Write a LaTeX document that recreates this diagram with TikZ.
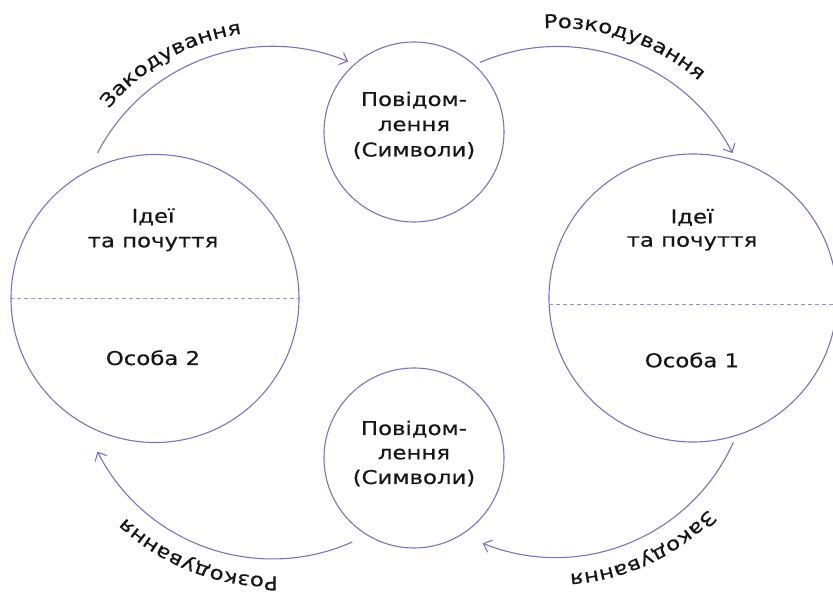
\documentclass[tikz,border=0pt]{standalone}
\usepackage{fontspec}
\setmainfont{DejaVu Sans}[FakeStretch=1.2,FakeBold=0.4]
\usetikzlibrary{arrows.meta,decorations.text,calc}

\definecolor{ink}{RGB}{124,112,196}
\definecolor{dashink}{RGB}{152,142,210}
\definecolor{txt}{RGB}{22,22,22}

\newcommand{\lblfont}{\fontsize{19}{25}\selectfont}

\begin{document}
\begin{tikzpicture}[x=1pt,y=1pt,
  ring/.style={draw=ink, line width=1.1pt, circle, inner sep=0pt},
  line/.style={font=\lblfont, text=txt, anchor=base, inner sep=0pt},
  link/.style={draw=ink, line width=1.1pt, -{Straight Barb[length=7pt,width=13pt]}},
  split/.style={draw=dashink, line width=1pt, dash pattern=on 4pt off 3pt},
  arclabel/.style={decorate, decoration={text along path, text align=center,
      text color=txt, text={|\lblfont|#1}}}
]
\useasboundingbox (0,0) rectangle (833,592);
\clip (0,0) rectangle (833,592);

% people and messages
\node[ring, minimum size=288] (p2) at (155,293.5) {};
\node[ring, minimum size=288] (p1) at (693,294) {};
\node[ring, minimum size=180] (mtop) at (414,460) {};
\node[ring, minimum size=180] (mbot) at (414,134) {};

% dividing lines of the two persons
\draw[split] (p2.west) -- (p2.east);
\coordinate (p1l) at ($(p1.center)+(-143.8,-7)$);
\coordinate (p1r) at ($(p1.center)+(143.8,-7)$);
\draw[split] (p1l) -- (p1r);

% texts inside the circles
\node[line] (p2a) at (153,369.3) {Ідеї};
\node[line] (p2b) at (153,344.7) {та почуття};
\node[line] (p2c) at (153,227) {Особа 2};
\node[line] (p1a) at (692,368.7) {Ідеї};
\node[line] (p1b) at (692,345.3) {та почуття};
\node[line] (p1c) at (692,224.7) {Особа 1};
\node[line] (mt1) at (414,486) {Повідом-};
\node[line] (mt2) at (414,461) {лення};
\node[line] (mt3) at (414,435.5) {(Символи)};
\node[line] (mb1) at (414,157) {Повідом-};
\node[line] (mb2) at (414,132.7) {лення};
\node[line] (mb3) at (414,108) {(Символи)};

% centres of the curved connectors
\coordinate (c1) at (272.5,348.5);
\coordinate (c2) at (557.5,348.5);
\coordinate (c3) at (555.5,229.6);
\coordinate (c4) at (272.5,229.6);

% connectors
\coordinate (s1) at ($(c1)+(152.6:197)$);
\draw[link] (s1) arc[start angle=152.6, end angle=67.4, radius=197];
\coordinate (s2) at ($(c2)+(113.2:197)$);
\draw[link] (s2) arc[start angle=113.2, end angle=27.3, radius=197];
\coordinate (s3) at ($(c3)+(-24.2:195)$);
\draw[link] (s3) arc[start angle=-24.2, end angle=-111.9, radius=195];
\coordinate (s4) at ($(c4)+(-66:196.5)$);
\draw[link] (s4) arc[start angle=-66, end angle=-153, radius=196.5];

% connector labels
\coordinate (t1) at ($(c1)+(159.5:212)$);
\path[arclabel={Закодування}] (t1) arc[start angle=159.5, end angle=79.5, radius=212];
\coordinate (t2) at ($(c2)+(111.3:215.5)$);
\path[arclabel={Розкодування}] (t2) arc[start angle=111.3, end angle=31.3, radius=215.5];
\coordinate (t3) at ($(c3)+(-25:212)$);
\path[arclabel={Закодування}] (t3) arc[start angle=-25, end angle=-105, radius=212];
\coordinate (t4) at ($(c4)+(-71:214)$);
\path[arclabel={Розкодування}] (t4) arc[start angle=-71, end angle=-151, radius=214];
\end{tikzpicture}
\end{document}
